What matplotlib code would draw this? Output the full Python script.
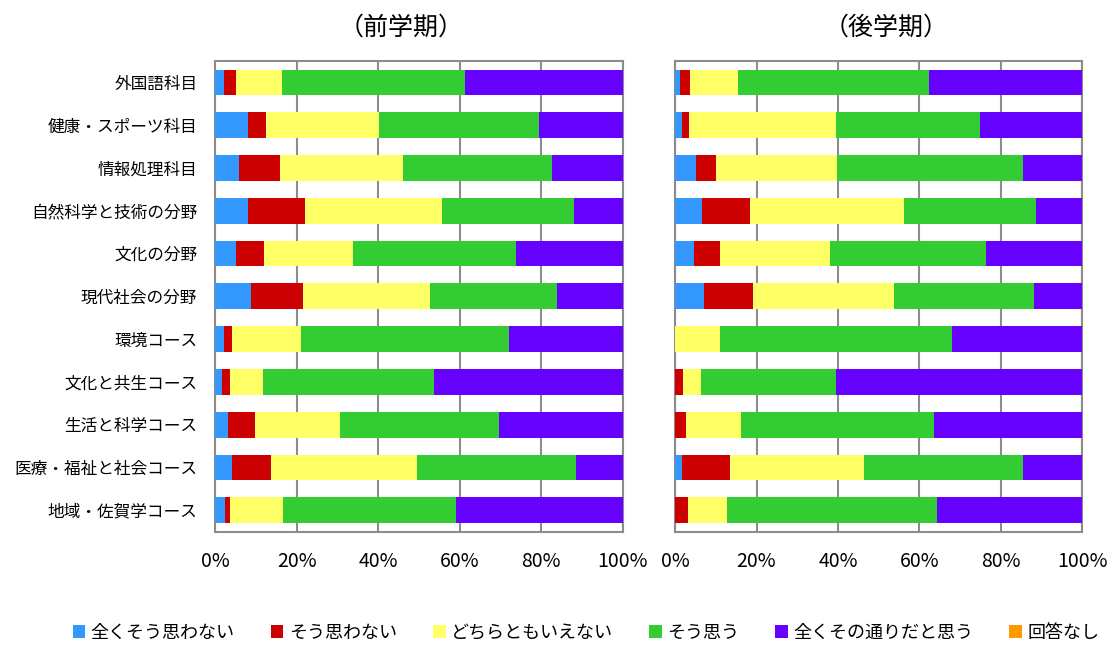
import matplotlib
matplotlib.use("Agg")
import matplotlib.pyplot as plt
import numpy as np

plt.rcParams["font.family"] = ["Noto Sans CJK JP", "DejaVu Sans"]

categories = [
    "外国語科目",
    "健康・スポーツ科目",
    "情報処理科目",
    "自然科学と技術の分野",
    "文化の分野",
    "現代社会の分野",
    "環境コース",
    "文化と共生コース",
    "生活と科学コース",
    "医療・福祉と社会コース",
    "地域・佐賀学コース",
]

answers = ["全くそう思わない", "そう思わない", "どちらともいえない",
           "そう思う", "全くその通りだと思う", "回答なし"]
colors = ["#3399FF", "#CC0000", "#FFFF66", "#33CC33", "#6600FF", "#FF9900"]

# 前学期 (%)
zen_1 = [2.1, 8.0, 5.7, 8.0, 5.0, 8.8, 2.1, 1.6, 3.0, 4.0, 2.4]
zen_2 = [2.9, 4.4, 10.2, 14.0, 7.0, 12.7, 1.9, 1.9, 6.8, 9.7, 1.2]
zen_3 = [11.3, 27.8, 30.1, 33.6, 21.9, 31.1, 17.1, 8.1, 20.8, 35.9, 12.9]
zen_4 = [45.0, 39.3, 36.6, 32.4, 39.8, 31.3, 51.1, 42.1, 39.1, 39.0, 42.5]
zen_5 = [38.7, 20.5, 17.4, 12.0, 26.3, 16.1, 27.8, 46.3, 30.3, 11.4, 41.0]
zen_6 = [0, 0, 0, 0, 0, 0, 0, 0, 0, 0, 0]

# 後学期 (%)
kou_1 = [1.1, 1.6, 5.1, 6.6, 4.6, 7.1, 0, 0, 0, 1.6, 0]
kou_2 = [2.6, 1.8, 5.0, 11.8, 6.5, 12.0, 0, 2.0, 2.7, 12.0, 3.2]
kou_3 = [11.8, 36.1, 29.7, 37.9, 27.0, 34.6, 11.0, 4.3, 13.5, 32.9, 9.6]
kou_4 = [46.9, 35.4, 45.7, 32.3, 38.2, 34.4, 57.1, 33.2, 47.3, 38.9, 51.6]
kou_5 = [37.6, 25.1, 14.5, 11.4, 23.7, 11.9, 31.9, 60.5, 36.5, 14.6, 35.6]
kou_6 = [0, 0, 0, 0, 0, 0, 0, 0, 0, 0, 0]

zenki = [zen_1, zen_2, zen_3, zen_4, zen_5, zen_6]
kouki = [kou_1, kou_2, kou_3, kou_4, kou_5, kou_6]

fig = plt.figure(figsize=(11.15, 6.48), dpi=100)
ax1 = fig.add_axes([0.1931, 0.1795, 0.3654, 0.7264])
ax2 = fig.add_axes([0.6054, 0.1795, 0.3654, 0.7264])

y = np.arange(len(categories))
grid_c = "#8C8C8C"

for ax, series in [(ax1, zenki), (ax2, kouki)]:
    left = np.zeros(len(categories))
    for vals, col, name in zip(series, colors, answers):
        vals = np.array(vals)
        ax.barh(y, vals, left=left, height=0.6, color=col, label=name, zorder=3)
        left += vals
    ax.set_xlim(0, 100)
    ax.set_ylim(len(categories) - 0.5, -0.5)
    ax.set_xticks([0, 20, 40, 60, 80, 100])
    ax.set_xticklabels(["0%", "20%", "40%", "60%", "80%", "100%"], fontsize=14)
    ax.xaxis.grid(True, color=grid_c, linewidth=1.5, zorder=0)
    ax.set_axisbelow(True)
    for s in ax.spines.values():
        s.set_color(grid_c)
        s.set_linewidth(1.5)
    ax.tick_params(axis="x", length=0, pad=14)
    ax.tick_params(axis="y", length=0, pad=13)

ax1.set_yticks(y)
ax1.set_yticklabels(categories, fontsize=12)
ax2.set_yticks([])

fig.text(0.36, 0.957, "（前学期）", fontsize=18, ha="center", va="center")
fig.text(0.795, 0.957, "（後学期）", fontsize=18, ha="center", va="center")

handles, labels = ax1.get_legend_handles_labels()
fig.legend(handles, labels, loc="center", bbox_to_anchor=(0.5256, 0.023),
           ncol=6, frameon=False, fontsize=13, handlelength=0.7,
           handleheight=0.7, handletextpad=0.3, columnspacing=2.0)

fig.savefig("out.png", dpi=100)
